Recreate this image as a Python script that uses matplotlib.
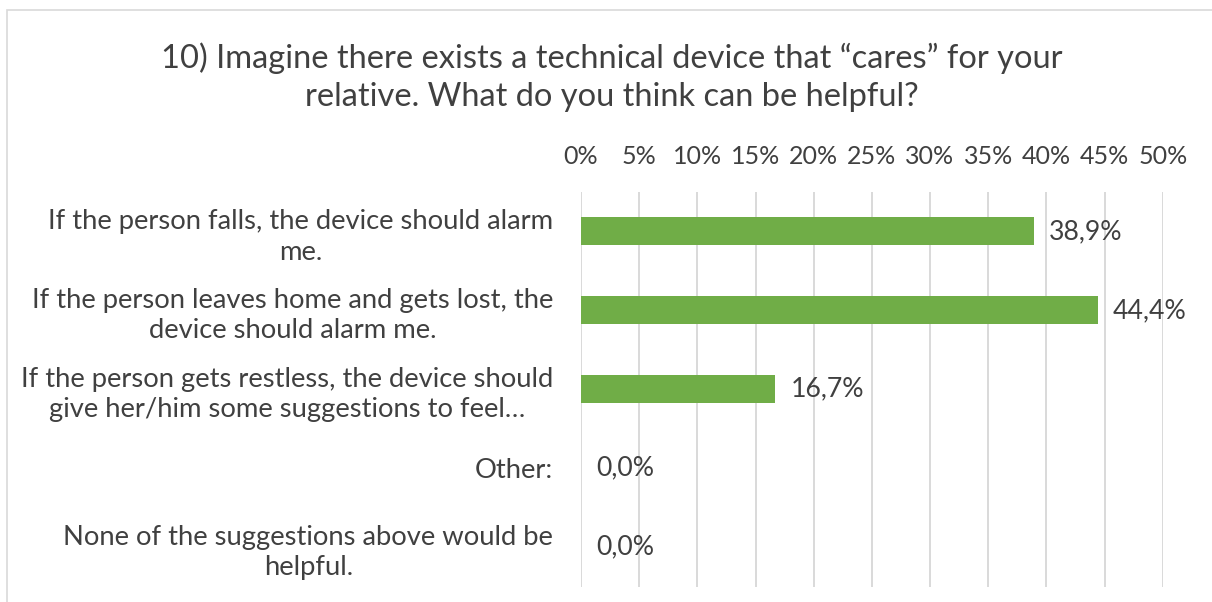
import matplotlib
matplotlib.use("Agg")
import matplotlib.pyplot as plt
from matplotlib.patches import Rectangle

# Survey answers, top to bottom
categories = [
    "If the person falls, the device should alarm\nme.",
    "If the person leaves home and gets lost, the\ndevice should alarm me.",
    "If the person gets restless, the device should\ngive her/him some suggestions to feel…",
    "Other:",
    "None of the suggestions above would be\nhelpful.",
]
shares = [38.9, 44.4, 16.7, 0.0, 0.0]
tick_values = [0, 5, 10, 15, 20, 25, 30, 35, 40, 45, 50]
tick_labels = [f"{v}%" for v in tick_values]
title = ("10) Imagine there exists a technical device that \u201ccares\u201d for your\n"
         "relative. What do you think can be helpful?")

TEXT = "#404040"
GRID = "#D9D9D9"
BAR = "#70AD47"
FONT = ["Lato", "DejaVu Sans"]

plt.rcParams["font.family"] = FONT

W, H = 1212, 602
fig = plt.figure(figsize=(W / 100, H / 100), dpi=100)
fig.patch.set_facecolor("white")

# chart frame
fig.add_artist(Rectangle((7 / W, -1.0), 3.0, 1.0 + 1 - 10 / H,
                         transform=fig.transFigure, fill=False,
                         edgecolor=GRID, linewidth=1.2))

ax = fig.add_axes([581 / W, 15.5 / H, (1162.7 - 581) / W, (586.5 - 192) / H])

y = list(range(len(categories)))
ax.barh(y, shares, height=0.355, color=BAR, zorder=3)
ax.set_ylim(len(categories) - 0.5, -0.5)
ax.set_xlim(0, 50)

for yi, v in zip(y, shares):
    ax.annotate(f"{v:.1f}%".replace(".", ","), xy=(v, yi), xytext=(11, 0),
                textcoords="offset points", ha="left", va="center",
                fontsize=19.2, color=TEXT, zorder=4)

ax.xaxis.set_ticks_position("top")
ax.set_xticks(tick_values)
ax.set_xticklabels(tick_labels)
ax.set_yticks(y)
ax.set_yticklabels(categories)
for lbl in ax.get_yticklabels():
    lbl.set_multialignment("center")
    lbl.set_linespacing(1.28)
ax.tick_params(axis="x", length=0, pad=17, labelsize=18, labelcolor=TEXT)
ax.tick_params(axis="y", length=0, pad=20, labelsize=19.7, labelcolor=TEXT)

ax.grid(axis="x", color=GRID, linewidth=1.4, zorder=0)
ax.grid(axis="y", visible=False)
for s in ax.spines.values():
    s.set_visible(False)

fig.text(612 / W, 1 - 77 / H, title, ha="center", va="center",
         fontsize=23.5, color=TEXT, linespacing=1.32)

fig.savefig("out.png", dpi=100)
